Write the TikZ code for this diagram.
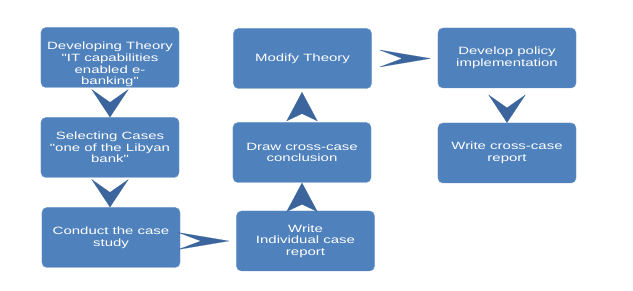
\documentclass[tikz,border=0pt]{standalone}
\usepackage{fontspec}
\newfontfamily\boxfont[FakeStretch=1.42]{Liberation Sans}
\usetikzlibrary{arrows.meta}
\definecolor{boxblue}{HTML}{4F81BD}
\definecolor{chevblue}{HTML}{3B659C}

\begin{document}
\begin{tikzpicture}[x=0.03cm, y=-0.03cm,
    boxtext/.style={align=center, text=white, inner sep=1pt,
                    font=\boxfont\fontsize{9}{10}\selectfont},
    box/.style={boxtext, fill=boxblue, draw=boxblue!85!white, line width=0.4pt,
                rounded corners=0.15cm, minimum width=4.14cm,
                minimum height=1.8cm},
    chevdown/.style={-{Stealth[length=0.84cm, width=1.11cm, inset=0.39cm]},
                     chevblue, line width=0.1pt, shorten <=#1},
    chevdown/.default=0.44cm,
    chevup/.style={-{Stealth[length=0.87cm, width=0.93cm, inset=0.22cm]},
                   chevblue, line width=0.1pt, shorten <=#1},
    chevup/.default=0.24cm,
    chevright/.style={-{Stealth[length=1.55cm, width=0.52cm, inset=0.69cm]},
                      chevblue, line width=0.1pt, shorten >=0.21cm,
                      shorten <=#1},
    chevright/.default=0.63cm,
]

    \fill[white] (0,0) rectangle (633,291);
    \useasboundingbox (0,0) rectangle (633,291);

    \node[box] (theory) at (110,57.5) {};
    \node[boxtext] (theorytext) at (110,64.5) {Developing Theory\\"IT capabilities\\enabled e-\\banking"};
    \node[box] (cases) at (110,147.5) {Selecting Cases\\"one of the Libyan\\bank"};
    \node[box] (conduct) at (111,237.5) {Conduct the case\\study};
    \node[box] (report) at (305.5,241) {Write\\Individual case\\report};
    \node[box] (cross) at (302,152.5) {Draw cross-case\\conclusion};
    \node[box] (modify) at (302.5,58.5) {Modify Theory};
    \node[box] (policy) at (507,58) {Develop policy\\implementation};
    \node[box] (final) at (507,153) {Write cross-case\\report};

    \draw[chevdown] (theory) -- (cases);
    \draw[chevdown] (cases.south) -- (cases.south |- conduct.north);
    \draw[chevright] (conduct.east |- report.west) -- (report.west);
    \draw[chevup] (cross.south |- report.north) -- (cross.south);
    \draw[chevup=0.28cm, shorten >=0.1cm] (cross.north) -- (cross.north |- modify.south);
    \draw[chevright=0.88cm] (modify.east) -- (modify.east -| policy.west);
    \draw[chevdown=0.59cm] (policy) -- (final);

\end{tikzpicture}
\end{document}
